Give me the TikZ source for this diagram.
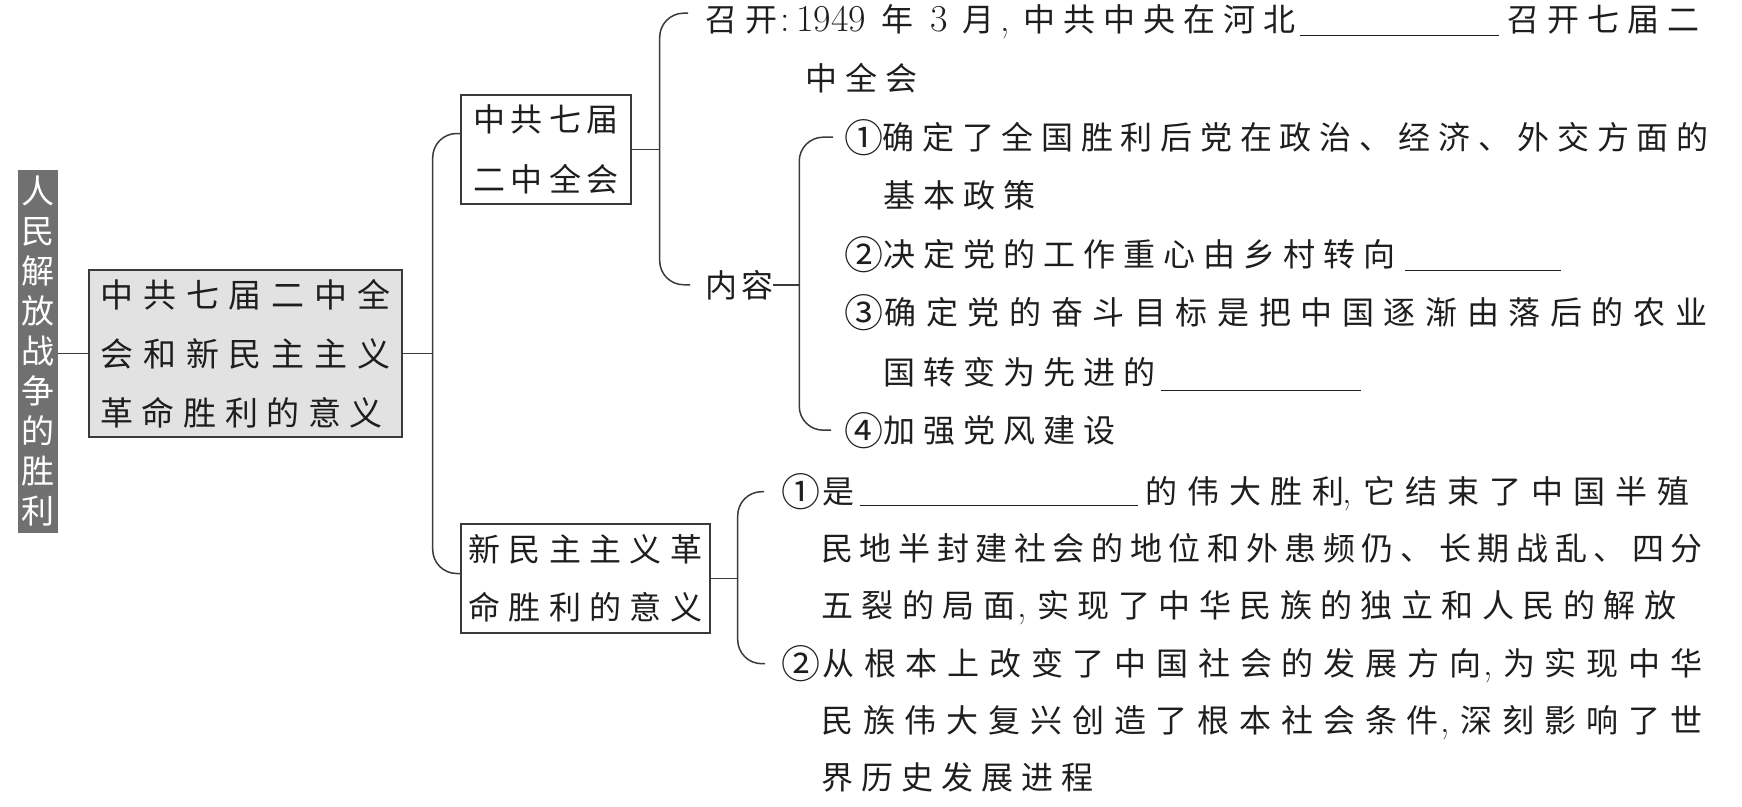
\documentclass[tikz,border=0pt]{standalone}
\usepackage{fontspec}
\newfontfamily\cjk{Noto Sans CJK SC}
\usetikzlibrary{calc}
\definecolor{barfill}{HTML}{707070}
\definecolor{boxfill}{HTML}{E2E2E2}
\definecolor{ink}{HTML}{1E1E1E}
\definecolor{linec}{HTML}{3A3A3A}
\newcommand{\dg}[1]{{\rmfamily\fontsize{38}{38}\selectfont #1}}
\newcommand{\cma}[2]{\hspace{#1}\makebox[#2][l]{\dg{,}}}
\newcommand{\blank}[2][-5pt]{\rule[#1]{#2}{1.3pt}}
\newcommand{\cir}[2]{\makebox[#2][l]{\hspace{1pt}\raisebox{-3pt}{\fontsize{39}{39}\selectfont #1}}}
\begin{document}
\begin{tikzpicture}[x=1pt, y=-1pt,
  ln/.style={draw=linec, line width=1.5pt},
  brk/.style={ln, rounded corners=24pt},
  rt/.style={font={\fontsize{32}{38}\selectfont\cjk\addfontfeature{LetterSpace=#1}}},
  tx/.style={anchor=base west, inner sep=0pt, text=ink, rt=#1},
  tx/.default=25,
  bx/.style={draw=linec, line width=1.4pt, text=ink, inner sep=0pt, align=left}]
\useasboundingbox (0,0) rectangle (1742,806);

% left vertical title bar
\node[fill=barfill, minimum width=40pt, minimum height=363pt, inner sep=0pt, text=white, align=center, font={\fontsize{33}{40}\selectfont\cjk}] (bar) at (38,351.5) {人\\民\\解\\放\\战\\争\\的\\胜\\利};

% main box
\node[bx, fill=boxfill, minimum width=313pt, minimum height=167pt, font={\fontsize{33}{59}\selectfont\cjk}] (main) at (245.5,353.5) {{\addfontfeature{LetterSpace=30}中共七届二中全}\\{\addfontfeature{LetterSpace=30}会和新民主主义}\\{\addfontfeature{LetterSpace=26}革命胜利的意义}};

% second level boxes
\node[bx, minimum width=170pt, minimum height=109pt, font={\fontsize{32}{60}\selectfont\cjk\addfontfeature{LetterSpace=18.75}}] (b1) at (546,149.5) {中共七届\\二中全会};
\node[bx, minimum width=249pt, minimum height=109pt, font={\fontsize{32}{58}\selectfont\cjk\addfontfeature{LetterSpace=26}}] (b2) at (585.5,578.5) {新民主主义革\\命胜利的意义};

% top group texts
\node[tx] (c1) at (705,31) {召开\hspace{3pt}\makebox[16pt][l]{\dg{:}}\dg{1949}\hspace{16pt}年\hspace{17pt}\dg{3}\hspace{14pt}月\cma{6pt}{23pt}中共中央在河北\hspace{5pt}\blank{199pt}\hspace{8pt}召开七届二};
\node[tx] (c2) at (805,90) {中全会};
\node[tx=12] (nr) at (705,297) {内容};
\node[tx=24] (a1) at (843,149) {\cir{①}{39.7pt}确定了全国胜利后党在政治、经济、外交方面的};
\node[tx] (a2) at (883,207) {基本政策};
\node[tx] (bb1) at (843,266) {\cir{②}{40pt}决定党的工作重心由乡村转向\hspace{10pt}\blank{156pt}};
\node[tx=30] (d1) at (843,324) {\cir{③}{41.6pt}确定党的奋斗目标是把中国逐渐由落后的农业};
\node[tx] (d2) at (883,384) {国转变为先进的\hspace{6pt}\blank[-7pt]{200pt}};
\node[tx] (e1) at (843,442) {\cir{④}{40pt}加强党风建设};

% bottom group texts
\node[tx=31] (f1) at (780,503) {\cir{①}{42pt}是\hspace{6pt}\blank[-3pt]{278pt}\hspace{7pt}的伟大胜利\cma{-2pt}{21pt}它结束了中国半殖};
\node[tx=20.7] (f2) at (821,560) {民地半封建社会的地位和外患频仍、长期战乱、四分};
\node[tx=26.5] (f3) at (821,617) {五裂的局面\cma{2pt}{20pt}实现了中华民族的独立和人民的解放};
\node[tx=30.6] (g1) at (780,675) {\cir{②}{42pt}从根本上改变了中国社会的发展方向\cma{2pt}{20pt}为实现中华};
\node[tx=30.75] (g2) at (821,732) {民族伟大复兴创造了根本社会条件\cma{2pt}{20pt}深刻影响了世};
\node[tx] (g3) at (821,789) {界历史发展进程};

% junction coordinates
\coordinate (j0) at ($(main.east)+(30,0)$);
\coordinate (j1) at ($(b1.east)+(28,0)$);
\coordinate (j2) at ($(nr.east)+(26,0)$);
\coordinate (j3) at ($(b2.east)+(27,0)$);

% connectors
\draw[ln] (bar.east |- main.west) -- (main.west);
\draw[ln] (main.east) -- (j0);
\draw[brk] ($(b1.west)+(0,-16)$) -| ($(j0 |- b2.west)+(0,-5)$) -- ($(b2.west)+(0,-5)$);

\draw[ln] (b1.east) -- (j1);
\draw[brk] ($(c1.west)+(-17,-8)$) -| (j1 |- nr.west) -- ($(nr.west)+(-15,0)$);

\draw[ln] (nr.east) -- (j2);
\draw[brk] ($(a1.west)+(-10,0)$) -| (j2 |- e1.west) -- ($(e1.west)+(-12,0)$);

\draw[ln] (b2.east) -- (j3);
\draw[brk] ($(f1.west)+(-16,0)$) -| (j3 |- g1.west) -- ($(g1.west)+(-15,0)$);
\end{tikzpicture}
\end{document}
